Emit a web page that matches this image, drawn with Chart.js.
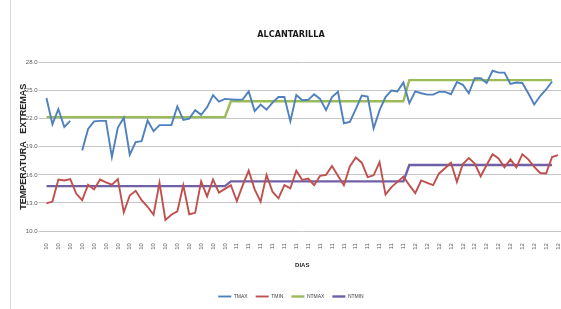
<!DOCTYPE html>
<html><head><meta charset="utf-8">
<script src="https://cdn.jsdelivr.net/npm/chart.js@4.4.1/dist/chart.umd.min.js"></script>
<style>
html,body{margin:0;padding:0;background:#fff;overflow:hidden;}
#wrap{position:relative;width:561px;height:309px;}
#frame{position:absolute;left:10px;top:0;width:0;height:309px;border-left:1px solid #d9d9d9;}
canvas{position:absolute;left:0;top:0;}
</style></head><body>
<div id="wrap"><div id="frame"></div><canvas id="c" width="561" height="309"></canvas></div>
<script>
// Categories: one per day (Oct 1 .. Dec 26), label shows the month number
const categories = [
 "10","10","10","10","10","10","10","10","10","10","10","10","10","10","10","10",
 "10","10","10","10","10","10","10","10","10","10","10","10","10","10","10",
 "11","11","11","11","11","11","11","11","11","11","11","11","11","11","11",
 "11","11","11","11","11","11","11","11","11","11","11","11","11","11","11",
 "12","12","12","12","12","12","12","12","12","12","12","12","12","12","12",
 "12","12","12","12","12","12","12","12","12","12","12"
];
const TMAX = [
 24.2,21.4,23.0,21.1,21.75,null,18.6,20.9,21.7,21.75,21.75,17.9,21.05,22.1,18.15,19.5,
 19.6,21.8,20.65,21.3,21.3,21.3,23.3,21.85,22.0,22.9,22.4,23.2,24.5,23.8,24.1,
 24.05,24.0,24.05,24.9,22.8,23.5,22.95,23.7,24.3,24.3,21.7,24.5,23.95,24.0,24.6,
 24.1,22.9,24.3,24.85,21.5,21.65,23.0,24.45,24.35,20.95,22.9,24.3,25.0,24.9,25.85,
 23.65,24.9,24.7,24.55,24.55,24.85,24.85,24.6,25.9,25.6,24.7,26.3,26.3,25.8,27.1,
 26.9,26.9,25.7,25.85,25.8,24.7,23.5,24.4,25.1,25.95
];
const TMIN = [
 12.95,13.15,15.5,15.4,15.55,14.0,13.3,14.95,14.45,15.5,15.2,14.95,15.55,12.0,13.8,14.3,
 13.3,12.6,11.75,15.15,11.2,11.75,12.1,14.9,11.8,11.95,15.3,13.7,15.5,14.1,14.5,
 14.9,13.2,14.9,16.45,14.45,13.15,16.0,14.2,13.5,14.9,14.55,16.45,15.45,15.6,14.9,
 15.9,16.0,16.95,15.9,14.9,16.9,17.85,17.3,15.75,15.95,17.35,13.9,14.7,15.25,15.8,
 14.9,14.05,15.4,15.15,14.9,16.15,16.7,17.3,15.25,17.15,17.8,17.2,15.85,17.05,18.2,
 17.75,16.8,17.65,16.8,18.2,17.65,16.85,16.2,16.15,17.9,18.1
];
// Monthly normals (Oct, Nov, Dec) and number of plotted days in each month
const monthDays = [31, 30, 25];
const NTMAX_MONTH = [22.15, 23.85, 26.1];
const NTMIN_MONTH = [14.8, 15.3, 17.05];
const seriesNames = ["TMAX","TMIN","NTMAX","NTMIN"];
const seriesColors = ["#4F81BD","#C0504D","#9BBB59","#7060A8"];
const yTicks = [10,13,16,19,22,25,28];

function expand(vals){ const out=[]; vals.forEach((v,k)=>{ for(let d=0; d<monthDays[k]; d++) out.push(v); }); return out; }
const NTMAX = expand(NTMAX_MONTH);
const NTMIN = expand(NTMIN_MONTH);

const allData = [TMAX, TMIN, NTMAX, NTMIN];
const widths = [1.9, 1.9, 2.4, 2.4];
const datasets = seriesNames.map((n,k)=>({
  label:n, data:allData[k], borderColor:seriesColors[k], backgroundColor:seriesColors[k],
  borderWidth:widths[k], pointRadius:0, tension:0, spanGaps:false, fill:false
}));

const small = {family:'"Liberation Sans", Arial, sans-serif', size:6};
new Chart(document.getElementById('c'), {
  type:'line',
  data:{labels:categories, datasets},
  options:{
    responsive:false, animation:false, devicePixelRatio:1,
    layout:{padding:{left:21,right:0,top:0,bottom:0}},
    plugins:{
      title:{display:true, text:'ALCANTARILLA', color:'#1a1a1a',
        font:{family:'"Liberation Sans Narrow","DejaVu Sans Condensed","Liberation Sans",sans-serif', size:9, weight:'bold'},
        padding:{top:29.5, bottom:22}},
      legend:{position:'bottom', labels:{usePointStyle:true, pointStyle:'line', pointStyleWidth:13, boxHeight:5,
        font:{family:'"Liberation Sans", Arial, sans-serif', size:5}, color:'#404040', padding:8}},
      tooltip:{enabled:false}
    },
    scales:{
      x:{type:'category', offset:true,
        afterFit:(s)=>{ s.paddingLeft = 0; s.paddingRight = 0; },
        grid:{display:false, drawTicks:false}, border:{display:false},
        ticks:{autoSkip:false, minRotation:90, maxRotation:90, padding:12, font:small, color:'#595959',
          callback:function(v,i){ return i%2===0 ? this.getLabelForValue(v) : ''; }},
        title:{display:true, text:'DIAS', color:'#262626', font:{family:'"Liberation Sans", Arial, sans-serif', size:6, weight:'bold'}, padding:{top:0,bottom:17}}
      },
      y:{min:10, max:28,
        afterBuildTicks:(s)=>{ s.ticks = yTicks.map(v=>({value:v})); },
        afterFit:(s)=>{ s.width = 22.5; },
        grid:{color:'#c6c6c6', lineWidth:1, tickLength:5}, border:{display:false},
        ticks:{font:small, color:'#595959', padding:1, callback:(v)=>Number(v).toFixed(1)},
        title:{display:true, text:'TEMPERATURA   EXTREMAS', color:'#262626',
          font:{family:'"Liberation Sans", Arial, sans-serif', size:9, weight:'bold', lineHeight:0.6}, padding:{top:0,bottom:0}}
      }
    }
  }
});
</script></body></html>
